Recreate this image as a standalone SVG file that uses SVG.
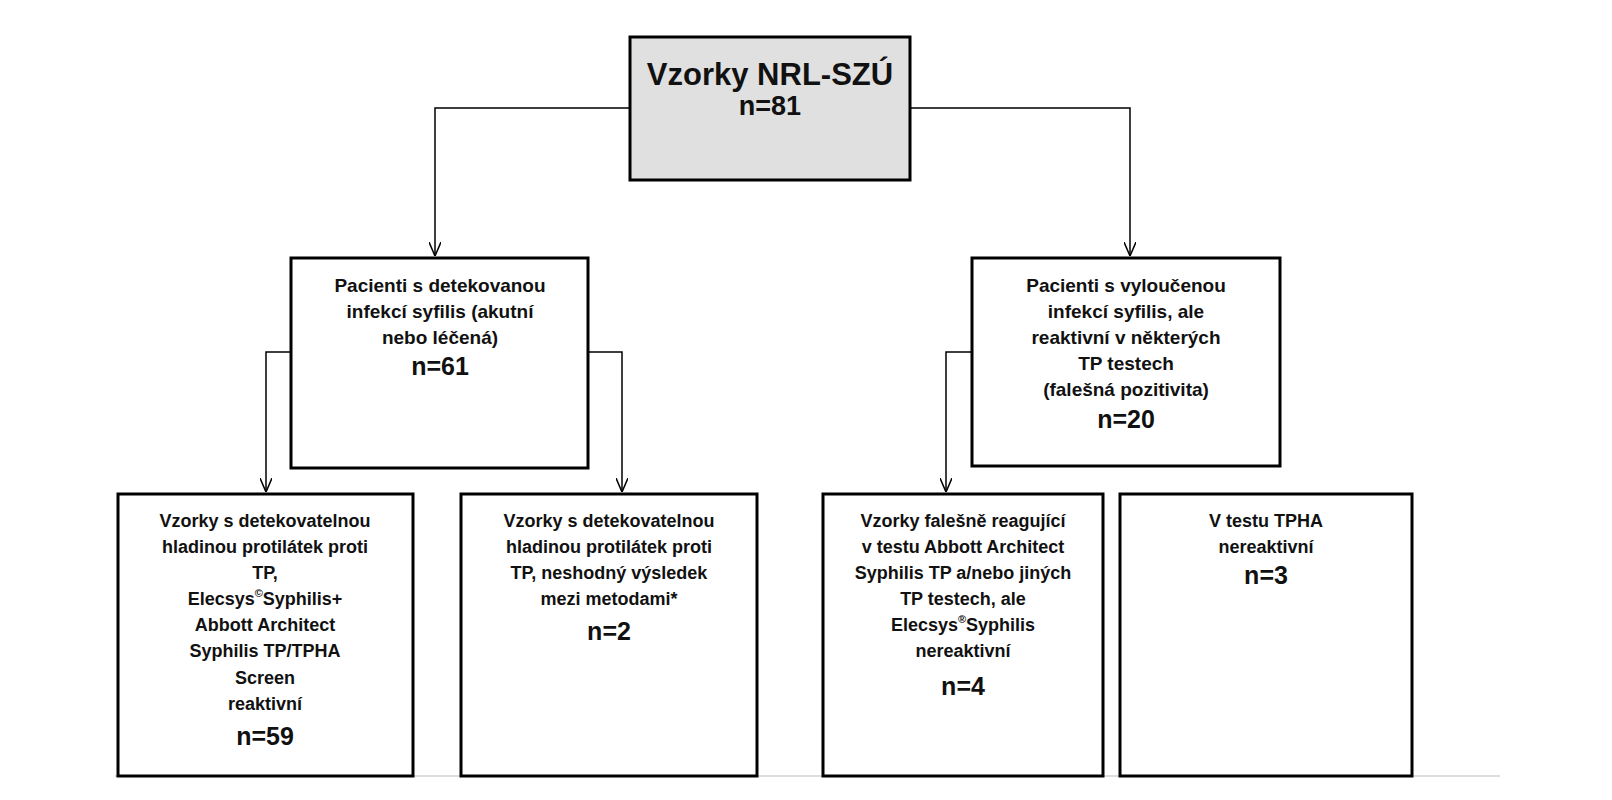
<svg xmlns="http://www.w3.org/2000/svg" width="1612" height="800" viewBox="0 0 1612 800">
<defs><marker id="ar" markerWidth="14" markerHeight="12" refX="14" refY="6" orient="auto" markerUnits="userSpaceOnUse" viewBox="0 0 14 12"><path d="M0,0 L14,6 L0,12" fill="none" stroke="#000" stroke-width="1.5"/></marker></defs>
<style>
.b{fill:#fff;stroke:#000;stroke-width:3}
text{font-family:"Liberation Sans",Arial,sans-serif;font-weight:bold;text-anchor:middle;fill:#111}
.m{font-size:19px}.s{font-size:18px}.n{font-size:25px}
.c{fill:none;stroke:#000;stroke-width:1.5}
</style>
<rect width="1612" height="800" fill="#fff"/>
<g id="connectors">
<path class="c" d="M630,108 H435 V256" marker-end="url(#ar)"/>
<path class="c" d="M910,108 H1130 V256" marker-end="url(#ar)"/>
<path class="c" d="M291,352 H266 V492" marker-end="url(#ar)"/>
<path class="c" d="M588,352 H622 V492" marker-end="url(#ar)"/>
<path class="c" d="M972,352 H946 V492" marker-end="url(#ar)"/>
<line x1="115" y1="776" x2="1500" y2="776" stroke="#ddd" stroke-width="2"/>
</g>
<g id="top"><rect x="630" y="37" width="280" height="143" fill="#e0e0e0" stroke="#000" stroke-width="3"/>
<text x="770" y="85" font-size="31">Vzorky NRL-SZÚ</text><text x="770" y="115" font-size="27">n=81</text></g>
<g id="mid1"><rect class="b" x="291" y="258" width="297" height="210"/>
<text class="m" x="440" y="292">Pacienti s detekovanou</text><text class="m" x="440" y="318">infekcí syfilis (akutní</text><text class="m" x="440" y="344">nebo léčená)</text><text class="n" x="440" y="375">n=61</text></g>
<g id="mid2"><rect class="b" x="972" y="258" width="308" height="208"/>
<text class="m" x="1126" y="292">Pacienti s vyloučenou</text><text class="m" x="1126" y="318">infekcí syfilis, ale</text><text class="m" x="1126" y="344">reaktivní v některých</text><text class="m" x="1126" y="370">TP testech</text><text class="m" x="1126" y="396">(falešná pozitivita)</text><text class="n" x="1126" y="428">n=20</text></g>
<g id="b1"><rect class="b" x="118" y="494" width="295" height="282"/>
<text class="s" x="265" y="527">Vzorky s detekovatelnou</text><text class="s" x="265" y="553">hladinou protilátek proti</text><text class="s" x="265" y="579">TP,</text><text class="s" x="265" y="605">Elecsys<tspan font-size="11" dy="-8">©</tspan><tspan dy="8">Syphilis+</tspan></text><text class="s" x="265" y="631">Abbott Architect</text><text class="s" x="265" y="657">Syphilis TP/TPHA</text><text class="s" x="265" y="684">Screen</text><text class="s" x="265" y="710">reaktivní</text><text class="n" x="265" y="745">n=59</text></g>
<g id="b2"><rect class="b" x="461" y="494" width="296" height="282"/>
<text class="s" x="609" y="527">Vzorky s detekovatelnou</text><text class="s" x="609" y="553">hladinou protilátek proti</text><text class="s" x="609" y="579">TP, neshodný výsledek</text><text class="s" x="609" y="605">mezi metodami*</text><text class="n" x="609" y="640">n=2</text></g>
<g id="b3"><rect class="b" x="823" y="494" width="280" height="282"/>
<text class="s" x="963" y="527">Vzorky falešně reagující</text><text class="s" x="963" y="553">v testu Abbott Architect</text><text class="s" x="963" y="579">Syphilis TP a/nebo jiných</text><text class="s" x="963" y="605">TP testech, ale</text><text class="s" x="963" y="631">Elecsys<tspan font-size="11" dy="-8">®</tspan><tspan dy="8">Syphilis</tspan></text><text class="s" x="963" y="657">nereaktivní</text><text class="n" x="963" y="695">n=4</text></g>
<g id="b4"><rect class="b" x="1120" y="494" width="292" height="282"/>
<text class="s" x="1266" y="527">V testu TPHA</text><text class="s" x="1266" y="553">nereaktivní</text><text class="n" x="1266" y="584">n=3</text></g>
</svg>
